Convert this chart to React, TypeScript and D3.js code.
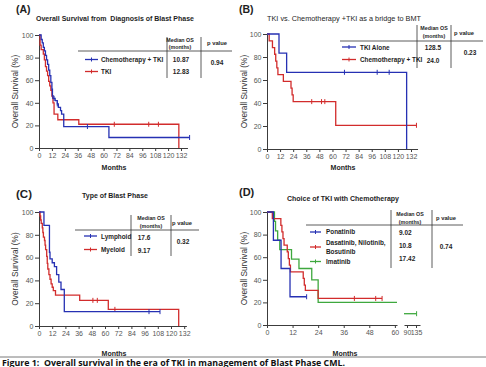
import React from "react";
import * as d3 from "d3";

type Pt = [number, number];

const colors = {
    blue: "#2631b3",
    red: "#d22c2c",
    green: "#3ea83e",
    axis: "#3c3c3c",
    tick: "#555555",
    text: "#1e1e1e",
};

const survivalTicks = [0, 20, 40, 60, 80, 100];
const monthTicks = [0, 12, 24, 36, 48, 60, 72, 84, 96, 108, 120, 132];
const monthTicksD = [0, 12, 24, 36, 48, 60];
const monthTicksDLate = [90, 135];

// (A) overall survival from diagnosis of blast phase
const chemoTkiA: Pt[] = [[0, 100], [2, 96], [3, 93], [4, 89], [5, 86], [6, 82], [7, 78], [8, 74], [9, 69], [10, 64], [11, 58], [12, 52], [12.5, 46], [13, 44], [15, 42], [17, 39], [18, 36], [20, 33], [21, 30], [23, 19], [65, 9.3], [140, 9.3]];
const chemoTkiACensored: Pt[] = [[14, 44], [17, 39], [45, 19], [140, 9.3]];
const tkiA: Pt[] = [[0, 100], [1, 91], [2, 87], [4, 83], [5, 78], [6, 72], [7, 68], [8, 64], [9, 59], [10, 55], [11, 51], [12, 46], [13, 40], [14, 30], [17.5, 25], [37, 21], [130, 0]];
const tkiACensored: Pt[] = [[12.5, 46], [70, 21], [102, 21], [111, 21]];
const namesA = ["Chemotherapy + TKI", "TKI"];
const mediansA = ["10.87", "12.83"];
const pValueA = "0.94";

// (B) TKI vs chemotherapy + TKI as a bridge to BMT
const tkiAloneB: Pt[] = [[0, 100], [11, 83.3], [18, 66.7], [128, 0]];
const tkiAloneBCensored: Pt[] = [[71, 66.7], [101, 66.7], [112, 66.7]];
const chemoTkiB: Pt[] = [[0, 100], [2, 94.1], [5, 88.2], [7, 82.4], [8, 76.5], [9, 70.6], [10, 64.7], [15, 58.8], [22, 52.9], [23, 47.1], [24, 41.2], [63, 20.6], [137, 20.6]];
const chemoTkiBCensored: Pt[] = [[41, 41.2], [50, 41.2], [53, 41.2], [137, 20.6]];
const namesB = ["TKI Alone", "Chemotherapy + TKI"];
const mediansB = ["128.5", "24.0"];
const pValueB = "0.23";

// (C) type of blast phase
const lymphoidC: Pt[] = [[0, 100], [4.5, 88.2], [9.5, 64.7], [10, 58.8], [12, 55.5], [14, 52], [16, 45], [18, 38.5], [20, 32], [23, 12.6], [110, 12.6]];
const lymphoidCCensored: Pt[] = [[100, 12.6], [110, 12.6]];
const myeloidC: Pt[] = [[0, 100], [1, 96.5], [1.5, 93], [2, 90], [3, 86], [3.5, 82], [4, 78], [5, 75], [5.5, 71], [6, 67], [7, 61], [7.5, 55], [8, 50], [9, 45], [10, 41], [11, 37], [12, 34], [13, 31], [15, 27], [37, 22.5], [63, 14.6], [127, 0]];
const myeloidCCensored: Pt[] = [[49, 22.5], [53, 22.5], [69, 14.6]];
const namesC = ["Lymphoid", "Myeloid"];
const mediansC = ["17.6", "9.17"];
const pValueC = "0.32";

// (D) choice of TKI with chemotherapy
const ponatinibD: Pt[] = [[0, 100], [3, 75], [6.6, 50], [10.8, 25], [18.6, 25]];
const ponatinibDCensored: Pt[] = [[18.6, 25]];
const dnbD: Pt[] = [[0, 100], [2.5, 94.1], [6.5, 88.2], [7, 82.4], [7.5, 76.5], [8, 70.6], [9.5, 64.7], [10, 58.8], [10.5, 52.9], [11, 47.1], [17, 41.2], [17.5, 35.3], [18, 30.6], [24, 23.5], [54, 23.5]];
const dnbDCensored: Pt[] = [[41, 23.5], [51, 23.5], [54, 23.5]];
const imatinibD: Pt[] = [[0, 100], [3.5, 91.7], [4, 83.3], [5, 75], [6, 66.7], [11.5, 58.3], [15, 50], [21, 40], [24, 20], [61, 20]];
const imatinibDLate: Pt[] = [[75, 10], [138, 10]];
const imatinibDLateCensored: Pt[] = [[138, 10]];
const namesD = [["Ponatinib"], ["Dasatinib, Nilotinib,", "Bosutinib"], ["Imatinib"]];
const mediansD = ["9.02", "10.8", "17.42"];
const pValueD = "0.74";

const caption = "Figure 1:  Overall survival in the era of TKI in management of Blast Phase CML.";

type G = d3.Selection<SVGGElement, unknown, null, undefined>;
type Scale = d3.ScaleLinear<number, number>;

const FONT = "'Liberation Sans', Arial, sans-serif";

function drawCurve(g: G, x: Scale, y: Scale, data: Pt[], censored: Pt[], color: string) {
    const line = d3.line<Pt>()
        .x(d => x(d[0]))
        .y(d => y(d[1]))
        .curve(d3.curveStepAfter);

    g.append("path")
        .datum(data)
        .attr("d", line)
        .attr("fill", "none")
        .attr("stroke", color)
        .attr("stroke-width", 1.3);

    g.append("g")
        .selectAll("line")
        .data(censored)
        .enter()
        .append("line")
        .attr("x1", d => x(d[0]))
        .attr("x2", d => x(d[0]))
        .attr("y1", d => y(d[1]) - 2.5)
        .attr("y2", d => y(d[1]) + 2.5)
        .attr("stroke", color)
        .attr("stroke-width", 1);
}

function styleAxis(a: G) {
    a.select(".domain").attr("stroke", colors.axis).attr("stroke-width", 1);
    a.selectAll(".tick line").attr("stroke", colors.axis);
    a.selectAll(".tick text")
        .attr("fill", colors.tick)
        .attr("font-size", 7)
        .attr("font-family", FONT);
}

function drawYAxis(g: G, x0: number, y: Scale, titleX: number) {
    const a = g.append("g")
        .attr("transform", `translate(${x0},0)`)
        .call(d3.axisLeft(y).tickValues(survivalTicks).tickSize(4).tickSizeOuter(0).tickPadding(1.5)) as G;
    a.attr("font-family", null).attr("font-size", null);
    styleAxis(a);

    const [y0, y1] = y.range();
    g.append("text")
        .text("Overall Survival (%)")
        .attr("transform", `translate(${titleX},${(y0 + y1) / 2}) rotate(-90)`)
        .attr("text-anchor", "middle")
        .attr("font-size", 8.3)
        .attr("font-family", FONT)
        .attr("fill", "#333");
}

function drawXAxis(g: G, x: Scale, y0: number, ticks: number[]) {
    const a = g.append("g")
        .attr("transform", `translate(0,${y0})`)
        .call(d3.axisBottom(x).tickValues(ticks).tickSize(3).tickSizeOuter(0).tickPadding(2)) as G;
    a.attr("font-family", null).attr("font-size", null);
    styleAxis(a);
}

function drawText(g: G, text: string, x: number, y: number, size: number, bold: boolean, anchor = "middle", fill = colors.text) {
    return g.append("text")
        .text(text)
        .attr("x", x)
        .attr("y", y)
        .attr("text-anchor", anchor)
        .attr("font-size", size)
        .attr("font-weight", bold ? "bold" : "normal")
        .attr("font-family", FONT)
        .attr("fill", fill)
        .style("white-space", "pre");
}

interface LegendRow {
    labels: string[];
    labelYs: number[];
    sampleY: number;
    color: string;
    median: string;
    medianY: number;
}

interface TableSpec {
    lineX1: number; lineX2: number; lineY: number;
    v1X: number; v2X: number; vTop: number; vBottom: number;
    headX: number; headYs: [number, number]; pHeadX: number; pHeadY: number;
    medX: number; medAnchor: string;
    pX: number; pY: number; pValue: string;
    sampleX1: number; sampleX2: number; labelX: number;
    rows: LegendRow[];
}

function drawTable(g: G, t: TableSpec) {
    g.append("line").attr("x1", t.lineX1).attr("x2", t.lineX2).attr("y1", t.lineY).attr("y2", t.lineY)
        .attr("stroke", "#333").attr("stroke-width", 0.8);
    [t.v1X, t.v2X].forEach(vx => {
        g.append("line").attr("x1", vx).attr("x2", vx).attr("y1", t.vTop).attr("y2", t.vBottom)
            .attr("stroke", "#333").attr("stroke-width", 0.8);
    });
    drawText(g, "Median OS", t.headX, t.headYs[0], 5.3, true);
    drawText(g, "(months)", t.headX, t.headYs[1], 5.3, true);
    drawText(g, "p value", t.pHeadX, t.pHeadY, 5.8, true);
    drawText(g, t.pValue, t.pX, t.pY, 6.5, true);

    t.rows.forEach(r => {
        g.append("line").attr("x1", t.sampleX1).attr("x2", t.sampleX2).attr("y1", r.sampleY).attr("y2", r.sampleY)
            .attr("stroke", r.color).attr("stroke-width", 1.3);
        const mx = (t.sampleX1 + t.sampleX2) / 2;
        g.append("line").attr("x1", mx).attr("x2", mx).attr("y1", r.sampleY - 2).attr("y2", r.sampleY + 2)
            .attr("stroke", r.color).attr("stroke-width", 1);
        r.labels.forEach((lab, i) => drawText(g, lab, t.labelX, r.labelYs[i], 6.4, true, "start"));
        drawText(g, r.median, t.medX, r.medianY, 6.5, true, t.medAnchor);
    });
}

class App extends React.Component {
    myRef: React.RefObject<HTMLDivElement | null> = React.createRef();

    componentDidMount() {
        const root = d3.select(this.myRef.current);
        root.selectAll("*").remove();

        const svg = root.append("svg")
            .attr("width", 486)
            .attr("height", 367)
            .style("position", "absolute")
            .style("left", "0px")
            .style("top", "0px")
            .style("background", "#ffffff");

        const g = svg.append("g") as unknown as G;

        // ---------- (A)
        const xA = d3.scaleLinear().domain([0, 138]).range([39, 39 + 138 * 142 / 132]);
        const yA = d3.scaleLinear().domain([0, 100]).range([148, 35]);
        drawText(g, "(A)", 16, 12.5, 10.5, true, "start");
        drawText(g, "Overall Survival from  Diagnosis of Blast Phase", 115, 21, 7, true);
        drawYAxis(g, 39, yA, 17.5);
        drawXAxis(g, xA, 148, monthTicks);
        drawText(g, "Months", 114, 170, 7, true);
        drawCurve(g, xA, yA, tkiA, tkiACensored, colors.red);
        drawCurve(g, xA, yA, chemoTkiA, chemoTkiACensored, colors.blue);
        drawTable(g, {
            lineX1: 78, lineX2: 232, lineY: 51,
            v1X: 167, v2X: 201, vTop: 37, vBottom: 78,
            headX: 180, headYs: [41.5, 49], pHeadX: 217, pHeadY: 45,
            medX: 181, medAnchor: "middle",
            pX: 217, pY: 64.5, pValue: pValueA,
            sampleX1: 85, sampleX2: 98, labelX: 101,
            rows: [
                { labels: [namesA[0]], labelYs: [62], sampleY: 59.5, color: colors.blue, median: mediansA[0], medianY: 62 },
                { labels: [namesA[1]], labelYs: [74], sampleY: 71.5, color: colors.red, median: mediansA[1], medianY: 74 },
            ],
        });

        // ---------- (B)
        const xB = d3.scaleLinear().domain([0, 138]).range([267, 267 + 138 * 144 / 132]);
        const yB = d3.scaleLinear().domain([0, 100]).range([149, 34]);
        drawText(g, "(B)", 239, 12.5, 10.5, true, "start");
        drawText(g, "TKI vs. Chemotherapy +TKI as a bridge to BMT", 344, 21, 7.3, false);
        drawYAxis(g, 267, yB, 246.5);
        drawXAxis(g, xB, 149, monthTicks);
        drawText(g, "Months", 343, 170, 7, true);
        drawCurve(g, xB, yB, chemoTkiB, chemoTkiBCensored, colors.red);
        drawCurve(g, xB, yB, tkiAloneB, tkiAloneBCensored, colors.blue);
        drawTable(g, {
            lineX1: 340, lineX2: 483, lineY: 41,
            v1X: 417, v2X: 451, vTop: 25, vBottom: 68,
            headX: 434, headYs: [30, 37.5], pHeadX: 464, pHeadY: 35,
            medX: 433, medAnchor: "middle",
            pX: 470, pY: 55, pValue: pValueB,
            sampleX1: 342, sampleX2: 356, labelX: 360,
            rows: [
                { labels: [namesB[0]], labelYs: [49.5], sampleY: 47, color: colors.blue, median: mediansB[0], medianY: 50 },
                { labels: [namesB[1]], labelYs: [62], sampleY: 59.5, color: colors.red, median: mediansB[1], medianY: 63 },
            ],
        });

        // ---------- (C)
        const xC = d3.scaleLinear().domain([0, 134]).range([39, 39 + 134 * 1.1]);
        const yC = d3.scaleLinear().domain([0, 100]).range([326, 212]);
        drawText(g, "(C)", 16, 197.5, 11.5, true, "start");
        drawText(g, "Type of Blast Phase", 115, 198, 7, true);
        drawYAxis(g, 39, yC, 17.5);
        drawXAxis(g, xC, 326, monthTicks);
        drawText(g, "Months", 114, 356, 7, true);
        drawCurve(g, xC, yC, myeloidC, myeloidCCensored, colors.red);
        drawCurve(g, xC, yC, lymphoidC, lymphoidCCensored, colors.blue);
        drawTable(g, {
            lineX1: 75, lineX2: 199, lineY: 230,
            v1X: 131, v2X: 171, vTop: 215, vBottom: 256,
            headX: 151, headYs: [220, 228], pHeadX: 182, pHeadY: 224.5,
            medX: 144, medAnchor: "middle",
            pX: 183, pY: 243.5, pValue: pValueC,
            sampleX1: 84, sampleX2: 97, labelX: 101,
            rows: [
                { labels: [namesC[0]], labelYs: [238.5], sampleY: 236, color: colors.blue, median: mediansC[0], medianY: 239.5 },
                { labels: [namesC[1]], labelYs: [252], sampleY: 249.5, color: colors.red, median: mediansC[1], medianY: 252.5 },
            ],
        });

        // ---------- (D) broken time axis
        const xD = d3.scaleLinear().domain([0, 61]).range([267, 397]);
        const xDLate = d3.scaleLinear().domain([75, 155]).range([404, 420]);
        const yD = d3.scaleLinear().domain([0, 100]).range([325, 212]);
        drawText(g, "(D)", 239, 195.5, 11, true, "start");
        drawText(g, "Choice of TKI with Chemotherapy", 343, 201, 7, true);
        drawYAxis(g, 267, yD, 246.5);
        drawXAxis(g, xD, 325, monthTicksD);
        drawXAxis(g, xDLate, 325, monthTicksDLate);
        drawText(g, "Months", 345, 356, 7, true);
        drawCurve(g, xD, yD, imatinibD, [], colors.green);
        drawCurve(g, xDLate, yD, imatinibDLate, imatinibDLateCensored, colors.green);
        drawCurve(g, xD, yD, dnbD, dnbDCensored, colors.red);
        drawCurve(g, xD, yD, ponatinibD, ponatinibDCensored, colors.blue);
        drawTable(g, {
            lineX1: 306, lineX2: 463, lineY: 225,
            v1X: 391, v2X: 432, vTop: 210, vBottom: 268,
            headX: 410, headYs: [216, 223.5], pHeadX: 446, pHeadY: 220,
            medX: 399, medAnchor: "start",
            pX: 446, pY: 249, pValue: pValueD,
            sampleX1: 310, sampleX2: 321, labelX: 326,
            rows: [
                { labels: namesD[0], labelYs: [234], sampleY: 232, color: colors.blue, median: mediansD[0], medianY: 235 },
                { labels: namesD[1], labelYs: [245, 253.5], sampleY: 247, color: colors.red, median: mediansD[1], medianY: 248 },
                { labels: namesD[2], labelYs: [264], sampleY: 261.5, color: colors.green, median: mediansD[2], medianY: 261 },
            ],
        });

        // caption
        g.append("line").attr("x1", 0).attr("x2", 486).attr("y1", 357).attr("y2", 357)
            .attr("stroke", "#7a7a7a").attr("stroke-width", 1);
        g.append("text")
            .text(caption)
            .attr("x", 2)
            .attr("y", 365.5)
            .attr("font-size", 8.5)
            .attr("font-weight", "bold")
            .attr("font-family", "'Open Sans', sans-serif")
            .attr("fill", "#111")
            .style("white-space", "pre")
            .attr("textLength", 343)
            .attr("lengthAdjust", "spacingAndGlyphs");
    }

    render() {
        return <div ref={this.myRef} />;
    }
}

export default App;
